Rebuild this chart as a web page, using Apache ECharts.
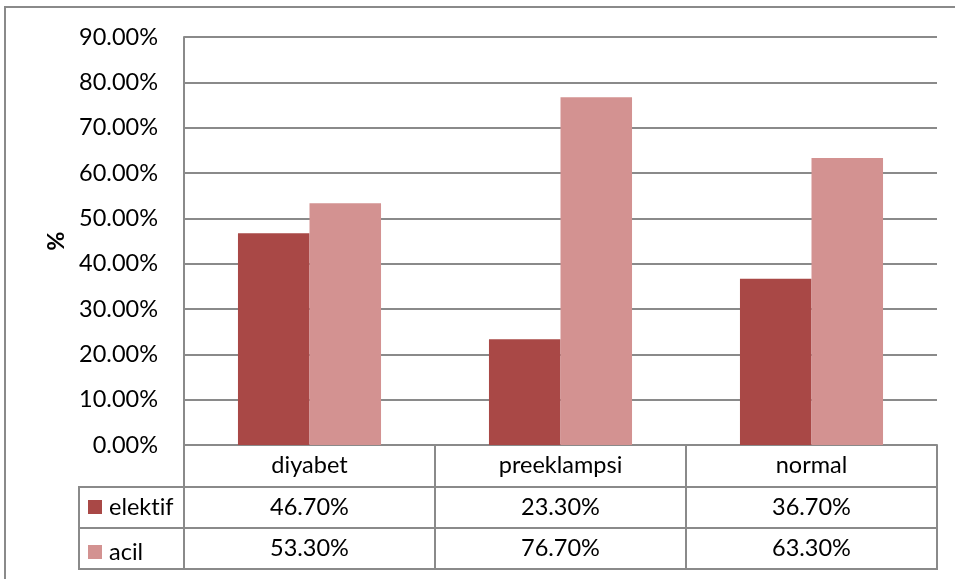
<!DOCTYPE html>
<html>
<head>
<meta charset="utf-8">
<script src="https://cdn.jsdelivr.net/npm/echarts@6/dist/echarts.min.js"></script>
<style>
  html, body { margin: 0; padding: 0; background: #fff; }
  #chart { width: 955px; height: 579px; }
</style>
</head>
<body>
<div id="chart"></div>
<script>
// Categories and series values (percent)
const categories = ['diyabet', 'preeklampsi', 'normal'];
const seriesNames = ['elektif', 'acil'];
const elektif = [46.7, 23.3, 36.7];
const acil = [53.3, 76.7, 63.3];
const yTicks = [0, 10, 20, 30, 40, 50, 60, 70, 80, 90];

const FONT = 'Lato';
const FS = 23.5;
const LINE = '#8a8a8a';
const fmt = v => v.toFixed(2) + '%';
// keep "t" and "i" as separate glyphs (Lato would join them)
const noLig = s => s.replace(/ti/g, 't\u200Ci').replace(/fi/g, 'f\u200Ci');

const chart = echarts.init(document.getElementById('chart'));

const tableAxis = (values, offset) => ({
  type: 'category',
  data: values.map(fmt),
  position: 'bottom',
  offset: offset,
  axisLine: { show: true, lineStyle: { color: LINE, width: 2 } },
  axisTick: { show: false },
  axisLabel: { interval: 0, margin: 9, color: '#000', fontFamily: FONT, fontSize: FS, lineHeight: 23 },
  splitLine: { show: false }
});

chart.setOption({
  animation: false,
  backgroundColor: '#fff',
  textStyle: { fontFamily: FONT },
  grid: { left: 184, right: 18, top: 37, bottom: 134, containLabel: false },
  legend: {
    orient: 'vertical',
    left: 83,
    top: 490,
    itemWidth: 14,
    itemHeight: 14,
    itemGap: 21,
    icon: 'rect',
    selectedMode: false,
    formatter: noLig,
    textStyle: { color: '#000', fontFamily: FONT, fontSize: FS, padding: [0, 0, 0, 2] },
    data: seriesNames
  },
  xAxis: [
    {
      type: 'category',
      data: categories,
      position: 'bottom',
      axisLine: { show: true, lineStyle: { color: LINE, width: 2 } },
      axisTick: { show: true, length: 124, lineStyle: { color: LINE, width: 2 } },
      axisLabel: { interval: 0, margin: 9, color: '#000', fontFamily: FONT, fontSize: FS, lineHeight: 23 },
      splitLine: { show: false }
    },
    tableAxis(elektif, 42),
    tableAxis(acil, 83)
  ],
  yAxis: {
    type: 'value',
    min: yTicks[0],
    max: yTicks[yTicks.length - 1],
    interval: 10,
    name: '%',
    nameLocation: 'middle',
    nameGap: 111,
    nameRotate: 90,
    nameTextStyle: { color: '#000', fontFamily: FONT, fontSize: FS, fontWeight: 'bold' },
    axisLine: { show: true, lineStyle: { color: LINE, width: 2 } },
    axisTick: { show: false },
    axisLabel: { margin: 26, color: '#000', fontFamily: FONT, fontSize: FS, formatter: v => fmt(v) },
    splitLine: { show: true, lineStyle: { color: LINE, width: 2 } }
  },
  series: [
    {
      name: seriesNames[0],
      type: 'bar',
      data: elektif,
      barGap: '0%',
      barCategoryGap: '43%',
      itemStyle: { color: '#A94846' }
    },
    {
      name: seriesNames[1],
      type: 'bar',
      data: acil,
      barGap: '0%',
      barCategoryGap: '43%',
      itemStyle: { color: '#D39291' }
    }
  ],
  graphic: [
    // outer frame
    { type: 'rect', shape: { x: 5, y: 7, width: 980, height: 620 }, style: { fill: 'none', stroke: LINE, lineWidth: 2 }, silent: true },
    // legend column of the data table
    { type: 'polyline', shape: { points: [[184, 487], [79, 487], [79, 569], [184, 569]] }, style: { fill: 'none', stroke: LINE, lineWidth: 2 }, silent: true },
    { type: 'line', shape: { x1: 79, y1: 528, x2: 184, y2: 528 }, style: { stroke: LINE, lineWidth: 2 }, silent: true },
    // bottom edge of the data table
    { type: 'line', shape: { x1: 184, y1: 569, x2: 938, y2: 569 }, style: { stroke: LINE, lineWidth: 2 }, silent: true }
  ]
});
</script>
</body>
</html>
